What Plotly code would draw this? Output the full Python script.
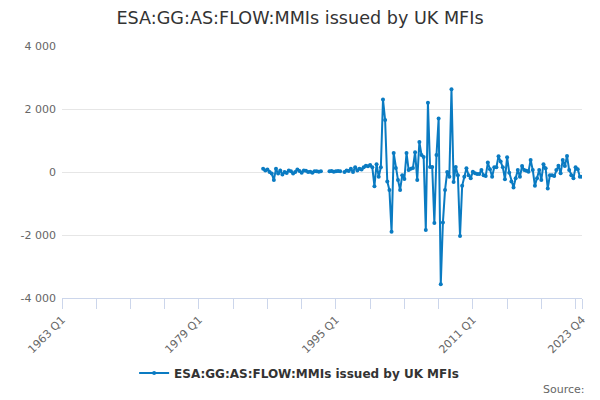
import plotly.graph_objects as go

# quarterly flow values, first value is 1986 Q3, None = no observation
start_year = 1986
start_quarter = 3
values = [
    100, 50, 80, 0, -50, -250, 100, -50, 50, -80,
    0, -30, 50, 20, -50, 0, 80, 30, -20, 50,
    40, 0, 10, -20, 20, 20, 10, 20,
    None, None, None,
    20, 30, 10, 20, 30, 20,
    None,
    0, 50, 30, 100, 0, 150, 50, 100, 80, 150,
    200, 180, 220, 150, -450, 250, -150, 150,
    2300, 1650, -300, -570, -1900, 600, 130, -250, -570, -100,
    -220, 600, 60, 100, 130, 630, -250, 950, 540, 480,
    -1840, 2200, 160, 160, -1620, 540, 1700, -3560, -1600, -570,
    0, -150, 2630, -320, 160, -100, -2030, -440, -150, 120,
    -100, -200, 10, -40, -60, -60, 60, -100, -130, 300,
    90, -150, 150, 150, 500, 330, 150, -230, 470, -20,
    -300, -490, -200, 60, -150, 190, 60, 40, 10, 380,
    60, -440, -200, 60, -250, 250, 120, -520, -100, -100,
    -130, 60, 200, -40, 380, 190, 510, 60, -100, -200,
    150, 90, -150, -150,
]

x_labels = ["1963 Q1", "1979 Q1", "1995 Q1", "2011 Q1", "2023 Q4"]
y_ticks = [-4000, -2000, 0, 2000, 4000]
y_labels = ["-4 000", "-2 000", "0", "2 000", "4 000"]

all_quarters = [f"{y} Q{q}" for y in range(1963, 2024) for q in range(1, 5)]
first = all_quarters.index(f"{start_year} Q{start_quarter}")
quarters = all_quarters[first:first + len(values)]

# tick marks every 4 years, labels every 16
tick_pos = all_quarters[::16] + ["2023 Q4"]
tick_txt = [t if t in x_labels else "" for t in tick_pos]

name = "ESA:GG:AS:FLOW:MMIs issued by UK MFIs"
blue = "#0a7bc2"

fig = go.Figure()
fig.add_trace(go.Scatter(
    x=quarters, y=values, name=name, mode="lines+markers",
    line=dict(color=blue, width=2), marker=dict(color=blue, size=4),
    connectgaps=False,
))

fig.update_layout(
    width=600, height=400,
    margin=dict(l=62, r=15, t=46, b=102),
    paper_bgcolor="white", plot_bgcolor="white",
    font=dict(family="DejaVu Sans", color="#666666", size=11),
    title=dict(text=name, x=0.5, xanchor="center", y=0.955, yanchor="middle",
               font=dict(size=17.6, color="#333333")),
    showlegend=True,
    legend=dict(orientation="h", x=0.456, xanchor="center", y=-0.298, yanchor="middle",
                font=dict(size=12, color="#333333", weight="bold")),
    annotations=[dict(text="Source:", xref="paper", yref="paper", x=1.0096, y=-0.365,
                      xanchor="right", yanchor="middle", showarrow=False,
                      font=dict(size=11, color="#666666"))],
)
fig.update_xaxes(
    type="category", categoryorder="array", categoryarray=all_quarters,
    range=[0, len(all_quarters) - 1],
    tickvals=tick_pos, ticktext=tick_txt, tickangle=-45,
    ticks="outside", ticklen=10, tickcolor="#ccd6eb",
    showline=True, linecolor="#ccd6eb", showgrid=False, zeroline=False,
)
fig.update_yaxes(
    range=[-4000, 4000], tickvals=y_ticks, ticktext=y_labels,
    ticklabelstandoff=5,
    showgrid=True, gridcolor="#e6e6e6", zeroline=False, showline=False,
)

# page has a default 8px body margin, drop it so the chart sits at 0,0
fig.write_html("out.html", config={"displayModeBar": False},
               post_script="document.body.style.margin='0';")
